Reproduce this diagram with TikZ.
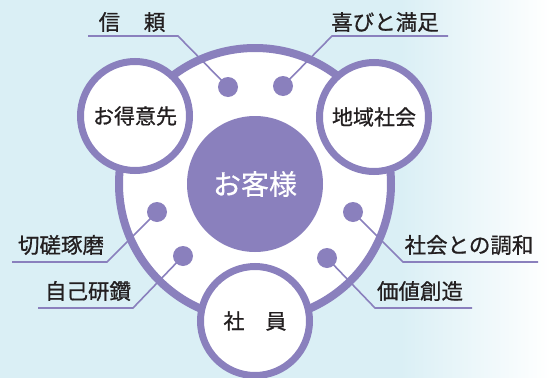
\documentclass[tikz,border=0pt]{standalone}
\usepackage{fontspec}
\newfontfamily\jp[FakeBold=0.8]{Noto Sans CJK JP}
\newfontfamily\jpw[FakeBold=0.5]{Noto Sans CJK JP}
\definecolor{pur}{HTML}{8A80BD}
\definecolor{txt}{HTML}{231F20}
\definecolor{bgb}{HTML}{DAEFF5}
\begin{document}
\begin{tikzpicture}[x=1pt,y=-1pt,
  ring/.style={draw=pur,fill=white,line width=8pt},
  sub/.style={circle,draw=pur,fill=white,line width=7pt,minimum size=109pt,inner sep=0pt,font=\jp\fontsize{21}{23}\selectfont,text=txt},
  dot/.style={circle,fill=pur,minimum size=20pt,inner sep=0pt},
  lbl/.style={font=\jp\fontsize{21.5}{23}\selectfont,text=txt,inner sep=0pt},
  lead/.style={draw=pur,line width=1.6pt}]
\useasboundingbox (0,0) rectangle (550,378);
\fill[bgb] (0,0) rectangle (551,378);
\shade[left color=bgb,right color=white] (400,0) rectangle (551,378);
% big ring
\node[circle,ring,minimum size=272pt,inner sep=0pt] (big) at (255,184) {};
% leader corner points
\coordinate (c1a) at (88,36);  \coordinate (c1b) at (178,36);
\coordinate (c2a) at (448,36); \coordinate (c2b) at (332,36);
\coordinate (c3a) at (12,262); \coordinate (c3b) at (107,262);
\coordinate (c4a) at (38,308); \coordinate (c4b) at (133,308);
\coordinate (c5a) at (538,262);\coordinate (c5b) at (403,262);
\coordinate (c6a) at (472,308);\coordinate (c6b) at (375,308);
% sub circles
\node[sub] (tok) at (135,116) {お得意先};
\node[sub] (chi) at (374,117) {地域社会};
\node[sub] (sha) at (255,321) {社\hspace{1em}員};
% center
\node[circle,fill=pur,minimum size=136pt,inner sep=0pt,text=white,font=\jpw\fontsize{28}{30}\selectfont] (kyaku) at (255,184) {お客様};
% dots
\node[dot] (d1) at (228,87) {};
\node[dot] (d2) at (283,86) {};
\node[dot] (d3) at (157,212) {};
\node[dot] (d4) at (183,256) {};
\node[dot] (d5) at (353,212) {};
\node[dot] (d6) at (327,258) {};
\draw[lead] (c1a) -- (c1b) -- (d1.center);
\draw[lead] (c2a) -- (c2b) -- (d2.center);
\draw[lead] (c3a) -- (c3b) -- (d3.center);
\draw[lead] (c4a) -- (c4b) -- (d4.center);
\draw[lead] (c5a) -- (c5b) -- (d5.center);
\draw[lead] (c6a) -- (c6b) -- (d6.center);
% labels
\node[lbl] (l1) at (132,22) {信\hspace{1.1em}頼};
\node[lbl] (l2) at (385,22) {喜びと満足};
\node[lbl] (l3) at (61,245) {切磋琢磨};
\node[lbl] (l4) at (88,291) {自己研鑽};
\node[lbl] (l5) at (469,245) {社会との調和};
\node[lbl] (l6) at (420,291) {価値創造};
\end{tikzpicture}
\end{document}
